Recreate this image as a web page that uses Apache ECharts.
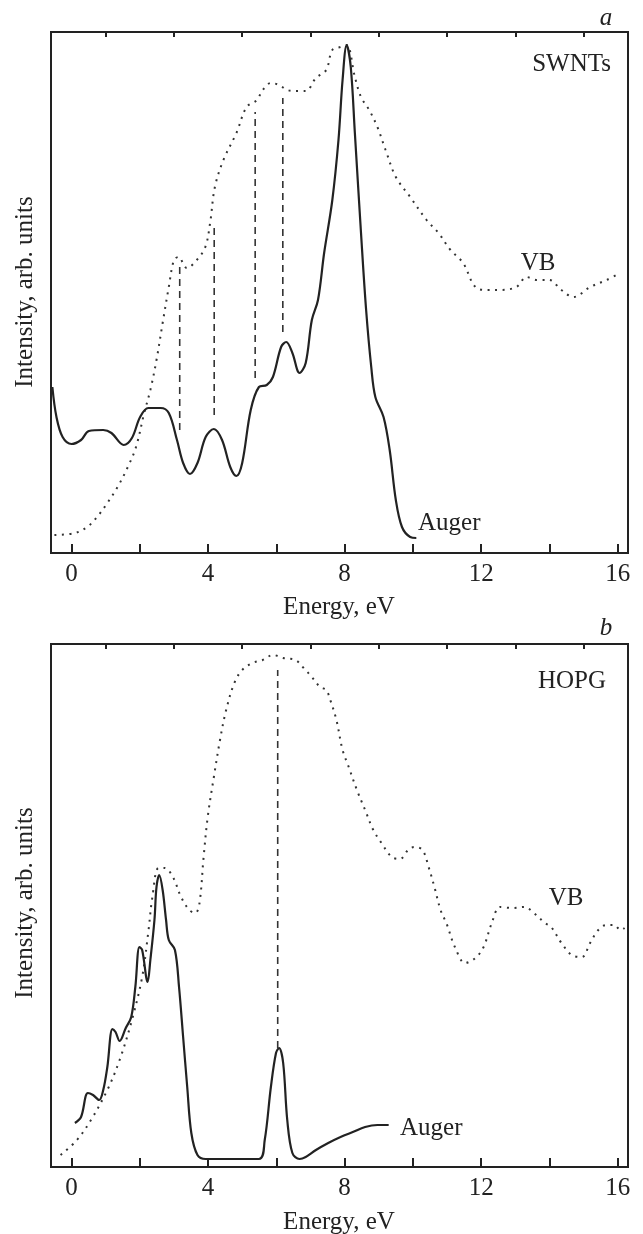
<!DOCTYPE html>
<html>
<head>
<meta charset="utf-8">
<script src="https://cdn.jsdelivr.net/npm/echarts@6/dist/echarts.min.js"></script>
<style>
  html, body { margin: 0; padding: 0; background: #fff; }
  #chart { width: 643px; height: 1234px; }
</style>
</head>
<body>
<div id="chart"></div>
<script>
// energy axis
const energyLabels = [0, 4, 8, 12, 16];
const majorTicks = [0, 2, 4, 6, 8, 10, 12, 14, 16];
const minorTicks = [1, 3, 5, 7, 9, 11, 13, 15];

// panel a (SWNTs): [energy eV, intensity arb.]
const swntVB = [
  [-0.5, 18], [0.1, 20], [0.46, 26], [0.75, 36], [1.05, 50], [1.35, 66], [1.65, 86],
  [1.89, 106], [2.13, 140], [2.31, 163], [2.49, 193], [2.67, 230], [2.85, 266],
  [3.0, 293], [3.13, 296], [3.38, 285], [3.67, 293], [3.92, 306], [4.06, 330],
  [4.2, 366], [4.45, 393], [4.83, 420], [5.13, 446], [5.43, 453], [5.6, 463],
  [5.84, 470], [6.08, 468], [6.32, 463], [6.56, 462], [6.86, 462], [7.16, 475],
  [7.46, 483], [7.64, 503], [7.88, 506], [8.06, 508], [8.3, 476], [8.48, 456],
  [8.72, 443], [8.96, 426], [9.2, 403], [9.5, 376], [9.92, 356], [10.4, 333],
  [10.75, 320], [11.1, 303], [11.47, 290], [11.83, 266], [12.19, 263], [12.55, 263],
  [13.03, 266], [13.33, 276], [13.63, 273], [13.99, 273], [14.35, 263], [14.7, 256],
  [15.19, 266], [15.67, 273], [15.96, 278]
];
const swntAuger = [
  [-0.56, 166], [-0.44, 136], [-0.26, 116], [0, 109], [0.28, 113], [0.51, 122],
  [0.93, 123], [1.17, 120], [1.53, 108], [1.77, 115], [2.01, 136], [2.25, 145],
  [2.61, 145], [2.85, 140], [3.09, 113], [3.27, 90], [3.47, 79], [3.69, 90],
  [3.93, 116], [4.17, 124], [4.41, 113], [4.65, 86], [4.83, 77], [5.0, 90],
  [5.25, 143], [5.49, 166], [5.72, 168], [5.9, 176], [6.14, 206], [6.29, 211],
  [6.47, 200], [6.68, 180], [6.86, 190], [7.04, 233], [7.22, 253], [7.4, 300],
  [7.64, 353], [7.82, 413], [7.94, 473], [8.06, 508], [8.18, 486], [8.3, 420],
  [8.48, 320], [8.63, 243], [8.78, 186], [8.9, 156], [9.14, 136], [9.32, 103],
  [9.5, 53], [9.68, 26], [9.92, 16], [10.1, 15]
];
const swntGuideE = [3.17, 4.18, 5.38, 6.19];
const swntGuideLow = [123, 138, 175, 221];
const swntGuideHigh = [286, 326, 441, 455];

// panel b (HOPG)
const hopgVB = [
  [-0.32, 12], [0.16, 27], [0.57, 47], [1.05, 77], [1.41, 107], [1.77, 147],
  [2.07, 190], [2.25, 235], [2.37, 270], [2.55, 299], [2.73, 299], [2.97, 290],
  [3.21, 270], [3.45, 257], [3.63, 254], [3.75, 264], [3.87, 310], [3.99, 350],
  [4.17, 390], [4.35, 427], [4.53, 457], [4.77, 484], [5.0, 497], [5.3, 504],
  [5.6, 507], [5.9, 512], [6.2, 509], [6.56, 507], [6.8, 499], [7.04, 490],
  [7.28, 480], [7.46, 477], [7.58, 467], [7.76, 447], [7.94, 417], [8.12, 400],
  [8.36, 377], [8.6, 357], [8.84, 337], [9.08, 324], [9.38, 310], [9.62, 308],
  [9.86, 317], [10.04, 320], [10.28, 317], [10.46, 300], [10.63, 280], [10.81, 257],
  [10.99, 243], [11.23, 220], [11.53, 204], [11.83, 209], [12.07, 220], [12.31, 244],
  [12.55, 260], [12.91, 259], [13.27, 260], [13.51, 255], [13.87, 244], [14.05, 240],
  [14.35, 224], [14.65, 212], [14.95, 210], [15.19, 224], [15.43, 237], [15.67, 242],
  [15.9, 242], [16.08, 237], [16.2, 239]
];
const hopgAuger = [
  [0.1, 44], [0.28, 50], [0.48, 74], [0.63, 72], [0.81, 67], [0.93, 77], [1.05, 100],
  [1.2, 138], [1.29, 135], [1.41, 126], [1.59, 139], [1.75, 150], [1.87, 180],
  [1.99, 220], [2.07, 217], [2.23, 185], [2.31, 207], [2.43, 247], [2.49, 280],
  [2.57, 292], [2.67, 277], [2.77, 247], [2.85, 227], [3.03, 217], [3.15, 180],
  [3.27, 130], [3.39, 80], [3.51, 34], [3.69, 12], [3.93, 8], [5.49, 8], [5.66, 27],
  [5.84, 80], [5.99, 114], [6.08, 119], [6.2, 104], [6.32, 47], [6.47, 14],
  [6.68, 8], [6.86, 10], [7.16, 17], [7.52, 24], [7.88, 30], [8.24, 35], [8.6, 40],
  [8.96, 42], [9.29, 42]
];
const hopgGuideE = [6.04];
const hopgGuideLow = [119];
const hopgGuideHigh = [497];

const ink = "#222";
const serif = "Liberation Serif";

const chart = echarts.init(document.getElementById("chart"));

// two panels share the same x scale
const grids = [
  { left: 51, top: 32, width: 577, height: 521, yMax: 521 },
  { left: 51, top: 644, width: 577, height: 523, yMax: 523 }
];

const xAxes = [];
const yAxes = [];
grids.forEach((g, i) => {
  // main axis: long ticks on even values, labels every 4 eV
  xAxes.push({
    type: "value",
    gridIndex: i,
    min: -0.6,
    max: 16.3,
    axisLine: { show: false },
    splitLine: { show: false },
    axisTick: {
      show: true,
      inside: true,
      length: 9,
      customValues: majorTicks,
      lineStyle: { color: ink, width: 2 }
    },
    axisLabel: {
      show: true,
      customValues: energyLabels,
      margin: 9,
      fontFamily: serif,
      fontSize: 25,
      color: ink
    }
  });
  // short ticks on odd values
  xAxes.push({
    type: "value",
    gridIndex: i,
    min: -0.6,
    max: 16.3,
    axisLine: { show: false },
    splitLine: { show: false },
    axisTick: {
      show: true,
      inside: true,
      length: 5,
      customValues: minorTicks,
      lineStyle: { color: ink, width: 2 }
    },
    axisLabel: { show: false }
  });
  yAxes.push({
    type: "value",
    gridIndex: i,
    min: 0,
    max: g.yMax,
    show: false
  });
});

function curve(data, xi, yi, dotted) {
  return {
    type: "line",
    xAxisIndex: xi,
    yAxisIndex: yi,
    data: data,
    smooth: 0.35,
    showSymbol: false,
    silent: true,
    lineStyle: dotted
      ? { color: "#333", width: 2, type: [2, 5.5] }
      : { color: ink, width: 2.2 }
  };
}

function guides(es, lows, highs, xi, yi) {
  return es.map((e, k) => ({
    type: "line",
    xAxisIndex: xi,
    yAxisIndex: yi,
    data: [[e, lows[k]], [e, highs[k]]],
    showSymbol: false,
    silent: true,
    lineStyle: { color: "#333", width: 1.6, type: [7, 5] }
  }));
}

const series = [
  curve(swntVB, 0, 0, true),
  curve(swntAuger, 0, 0, false),
  ...guides(swntGuideE, swntGuideLow, swntGuideHigh, 0, 0),
  curve(hopgVB, 2, 1, true),
  curve(hopgAuger, 2, 1, false),
  ...guides(hopgGuideE, hopgGuideLow, hopgGuideHigh, 2, 1)
];

function txt(str, x, y, opts) {
  return {
    type: "text",
    x: x,
    y: y,
    rotation: (opts && opts.rotation) || 0,
    style: {
      text: str,
      fontFamily: serif,
      fontSize: 25,
      fontStyle: (opts && opts.italic) ? "italic" : "normal",
      fill: ink,
      align: (opts && opts.align) || "center",
      verticalAlign: "middle"
    }
  };
}

chart.setOption({
  animation: false,
  backgroundColor: "#fff",
  grid: grids.map(g => ({
    left: g.left,
    top: g.top,
    width: g.width,
    height: g.height,
    show: true,
    borderWidth: 2,
    borderColor: ink,
    backgroundColor: "transparent"
  })),
  xAxis: xAxes,
  yAxis: yAxes,
  series: series,
  graphic: [
    txt("a", 606, 18, { italic: true }),
    txt("SWNTs", 611, 64, { align: "right" }),
    txt("VB", 538, 263),
    txt("Auger", 418, 523, { align: "left" }),
    txt("Energy, eV", 339, 607),
    txt("Intensity, arb. units", 25, 292, { rotation: Math.PI / 2 }),
    txt("b", 606, 628, { italic: true }),
    txt("HOPG", 606, 681, { align: "right" }),
    txt("VB", 566, 898),
    txt("Auger", 400, 1128, { align: "left" }),
    txt("Energy, eV", 339, 1222),
    txt("Intensity, arb. units", 25, 903, { rotation: Math.PI / 2 })
  ]
});
</script>
</body>
</html>
